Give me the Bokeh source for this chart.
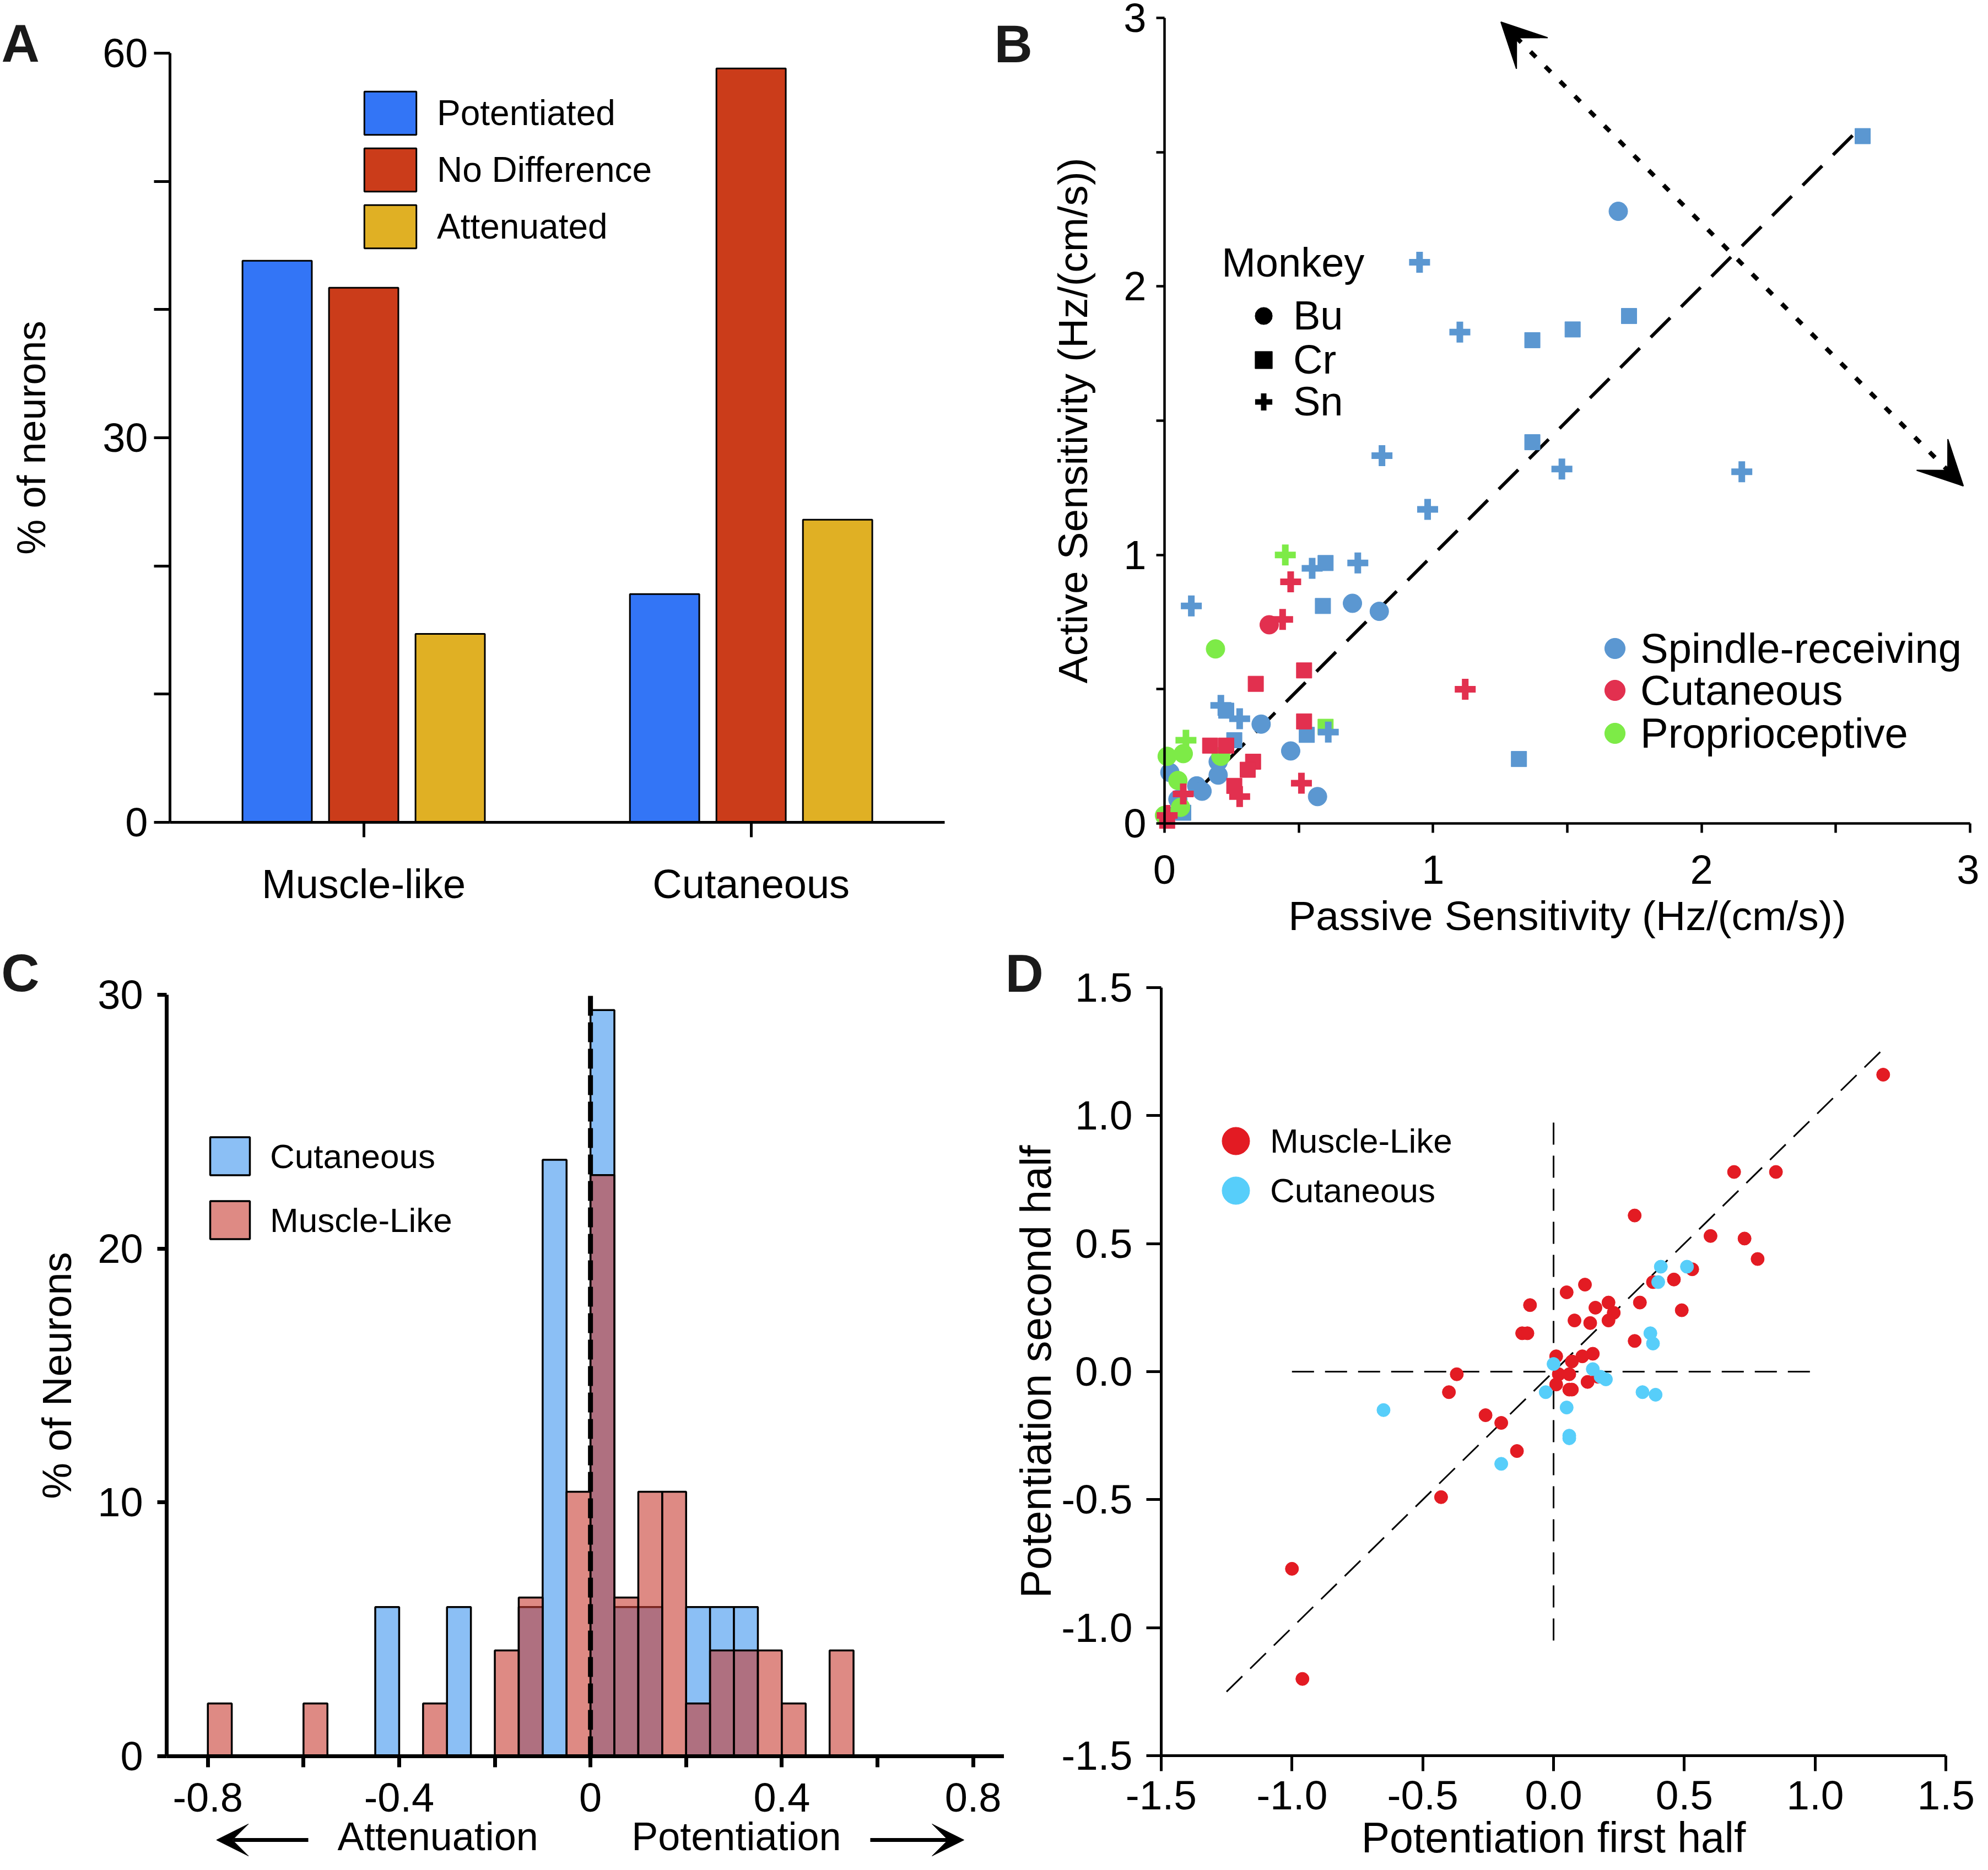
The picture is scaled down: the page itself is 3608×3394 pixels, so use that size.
from bokeh.plotting import figure
from bokeh.models import (Range1d, FixedTicker, Legend, LegendItem, Label,
                          Arrow, VeeHead, ColumnDataSource)
from bokeh.layouts import column, row
from bokeh.transform import dodge, factor_cmap, factor_mark
from bokeh.embed import file_html
from bokeh.resources import INLINE

FONT = "Liberation Sans"
NAN = float("nan")

# ---------------- Panel A data ----------------
groups = ["Muscle-like", "Cutaneous"]
potentiated = [43.8, 17.8]
no_difference = [41.7, 58.8]
attenuated = [14.7, 23.6]

# ---------------- Panel B data ----------------
b_types = ["Spindle-receiving", "Cutaneous", "Proprioceptive"]
b_monkeys = ["Bu", "Cr", "Sn"]
b_passive = [0.60,
             2.60, 1.69, 0.95, 1.10, 1.37, 1.52, 1.73, 1.37, 0.81, 1.48, 2.15, 0.98,
             0.10, 0.55, 0.60, 0.72, 0.59, 0.70, 0.80, 0.21, 0.23, 0.28, 0.36, 0.26,
             0.53, 0.61, 0.47, 0.57, 0.20, 0.20, 0.02, 0.12, 0.14, 0.05, 0.07, 0.01, 1.32,
             0.45, 0.19, 0.08, 0.01, 0.07, 0.21, 0.05, 0.06, 0.00,
             0.47, 0.39, 0.44, 0.52, 0.34, 1.12, 0.52, 0.17, 0.23, 0.33, 0.31, 0.26,
             0.28, 0.51, 0.07, 0.01, 0.01]
b_active = [0.36,
            2.56, 2.28, 2.09, 1.83, 1.80, 1.84, 1.89, 1.42, 1.37, 1.32, 1.31, 1.17,
            0.81, 0.95, 0.97, 0.97, 0.81, 0.82, 0.79, 0.44, 0.42, 0.39, 0.37, 0.31,
            0.33, 0.34, 0.27, 0.10, 0.23, 0.18, 0.19, 0.14, 0.12, 0.09, 0.04, 0.03, 0.24,
            1.00, 0.65, 0.31, 0.25, 0.26, 0.25, 0.16, 0.06, 0.03,
            0.90, 0.74, 0.76, 0.57, 0.52, 0.50, 0.38, 0.29, 0.29, 0.23, 0.20, 0.14,
            0.10, 0.15, 0.11, 0.01, 0.03]
b_type = (["Proprioceptive"] + ["Spindle-receiving"] * 37 + ["Proprioceptive"] * 9
          + ["Cutaneous"] * 17)
b_monkey = ["Cr",
            "Cr", "Bu", "Sn", "Sn", "Cr", "Cr", "Cr", "Cr", "Sn", "Sn", "Sn", "Sn",
            "Sn", "Sn", "Cr", "Sn", "Cr", "Bu", "Bu", "Sn", "Cr", "Sn", "Bu", "Cr",
            "Cr", "Sn", "Bu", "Bu", "Bu", "Bu", "Bu", "Bu", "Bu", "Bu", "Cr", "Bu", "Cr",
            "Sn", "Bu", "Sn", "Bu", "Bu", "Bu", "Bu", "Bu", "Bu",
            "Sn", "Bu", "Sn", "Cr", "Cr", "Sn", "Cr", "Cr", "Cr", "Cr", "Cr", "Cr",
            "Sn", "Sn", "Sn", "Cr", "Sn"]
b_identity = [0, 2.58]

# ---------------- Panel C data ----------------
bin_width = 0.05
c_cut_left = [-0.45, -0.30, -0.15, -0.10, 0.00, 0.05, 0.10, 0.20, 0.25, 0.30]
c_cut_pct = [5.88, 5.88, 5.88, 23.5, 29.4, 5.88, 5.88, 5.88, 5.88, 5.88]
c_mus_left = [-0.80, -0.60, -0.35, -0.20, -0.15, -0.05, 0.00, 0.05, 0.10, 0.15,
              0.20, 0.25, 0.30, 0.35, 0.40, 0.50]
c_mus_pct = [2.08, 2.08, 2.08, 4.17, 6.25, 10.42, 22.9, 6.25, 10.42, 10.42,
             2.08, 4.17, 4.17, 4.17, 2.08, 4.17]
c_ticks = [-0.8, -0.4, 0, 0.4, 0.8]
c_zero_x = [0, 0]
c_zero_y = [0, 30]

# ---------------- Panel D data ----------------
d_mus_first = [1.26, 0.69, 0.85, 0.31, 0.60, 0.73, 0.78, 0.53, 0.46, 0.38,
               0.49, 0.33, 0.31, 0.12, 0.05, -0.09, -0.12, -0.10, 0.16, 0.21,
               0.23, 0.21, 0.08, 0.14, 0.15, 0.11, 0.07, 0.01, 0.02, 0.06,
               0.01, 0.06, 0.07, 0.13, 0.17, -0.37, -0.40, -0.26, -0.20, -0.14,
               -0.43, -1.00, -0.96]
d_mus_second = [1.16, 0.78, 0.78, 0.61, 0.53, 0.52, 0.44, 0.40, 0.36, 0.35,
                0.24, 0.27, 0.12, 0.34, 0.31, 0.26, 0.15, 0.15, 0.25, 0.27,
                0.23, 0.20, 0.20, 0.19, 0.07, 0.06, 0.04, 0.06, -0.01, -0.01,
                -0.05, -0.07, -0.07, -0.04, -0.02, -0.01, -0.08, -0.17, -0.20, -0.31,
                -0.49, -0.77, -1.20]
d_cut_first = [0.41, 0.51, 0.40, 0.37, 0.38, 0.00, 0.15, 0.18, 0.20, -0.03,
               0.05, 0.34, 0.39, 0.06, 0.06, -0.65, -0.20]
d_cut_second = [0.41, 0.41, 0.35, 0.15, 0.11, 0.03, 0.01, -0.02, -0.03, -0.08,
                -0.14, -0.08, -0.09, -0.25, -0.26, -0.15, -0.36]
d_ticks = [-1.5, -1.0, -0.5, 0.0, 0.5, 1.0, 1.5]
identity_span = [-1.25, 1.25]
zero_h_span = [-1.0, 1.0]
zero_v_span = [-1.05, 1.0]


def base_fig(w, h, xr, yr):
    p = figure(width=w, height=h, x_range=Range1d(*xr), y_range=Range1d(*yr),
               output_backend="svg", toolbar_location=None, min_border=0)
    p.outline_line_color = None
    p.xgrid.grid_line_color = None
    p.ygrid.grid_line_color = None
    p.background_fill_color = "white"
    p.border_fill_color = "white"
    return p


def style_axis(ax, lw, tick_out, size, standoff, lab_size, lab_standoff, loc, bounds):
    ax.fixed_location = loc
    ax.bounds = bounds
    ax.axis_line_width = lw
    ax.axis_line_color = "black"
    ax.major_tick_line_width = lw
    ax.minor_tick_line_width = lw
    ax.major_tick_line_color = "black"
    ax.minor_tick_line_color = "black"
    ax.major_tick_in = 0
    ax.minor_tick_in = 0
    ax.major_tick_out = tick_out
    ax.minor_tick_out = tick_out
    ax.major_label_text_font = FONT
    ax.major_label_text_font_size = f"{size}px"
    ax.major_label_text_color = "black"
    ax.major_label_standoff = standoff
    ax.axis_label_text_font = FONT
    ax.axis_label_text_font_style = "normal"
    ax.axis_label_text_font_size = f"{lab_size}px"
    ax.axis_label_text_color = "black"
    ax.axis_label_standoff = lab_standoff


def text(p, x, y, t, size, align="left", bold=False, color="black"):
    p.add_layout(Label(x=x, y=y, text=t, text_font=FONT,
                       text_font_style="bold" if bold else "normal",
                       text_font_size=f"{size}px", text_color=color,
                       text_align=align, text_baseline="alphabetic"))


def legend(p, items, loc, gw, gh, standoff, spacing, size):
    lg = Legend(items=items, location=loc, glyph_width=gw, glyph_height=gh,
                label_standoff=standoff, spacing=spacing, padding=0, margin=0,
                border_line_alpha=0, background_fill_alpha=0, label_text_font=FONT,
                label_text_font_size=f"{size}px", label_text_color="black")
    p.add_layout(lg)
    return lg


# ================= Panel A =================
pA = base_fig(1800, 1707, (-0.438, 2.122), (-9.24, 64.12))
a_pos = [i + 0.5 for i in range(len(groups))]
srcA = ColumnDataSource(dict(pos=a_pos, pot=potentiated, nd=no_difference, att=attenuated))
step = 0.2233
bw = 0.179
rA1 = pA.vbar(x=dodge("pos", -step), top="pot", width=bw, source=srcA,
              fill_color="#3375F6", line_color="black", line_width=3)
rA2 = pA.vbar(x=dodge("pos", 0), top="nd", width=bw, source=srcA,
              fill_color="#CB3C1A", line_color="black", line_width=3)
rA3 = pA.vbar(x=dodge("pos", step), top="att", width=bw, source=srcA,
              fill_color="#E0B024", line_color="black", line_width=3)
pA.xaxis.ticker = FixedTicker(ticks=a_pos)
pA.xaxis.major_label_overrides = {p_: g for p_, g in zip(a_pos, groups)}
pA.yaxis.ticker = FixedTicker(ticks=[0, 30, 60], minor_ticks=[10, 20, 40, 50])
pA.yaxis.axis_label = "% of neurons"
style_axis(pA.yaxis[0], 5, 29, 74, 11, 72, 86, 0, (0, 60))
style_axis(pA.xaxis[0], 5, 27, 74, 44, 72, 10, 0, (0, 2))
legend(pA, [LegendItem(label="Potentiated", renderers=[rA1]),
            LegendItem(label="No Difference", renderers=[rA2]),
            LegendItem(label="Attenuated", renderers=[rA3])],
       (649, 1247), 118, 98, 26, 5, 64)
text(pA, -0.435, 60.77, "A", 96, bold=True, color="#1a1a1a")

# ================= Panel B =================
pB = base_fig(1792, 1707, (-0.642, 3.035), (-0.437, 3.066))
colors_B = ["#5B97D1", "#E2304F", "#7DEB47"]
size_map = {"Bu": 34, "Cr": 28, "Sn": 38}
lw_map = {"Bu": 1, "Cr": 1, "Sn": 12}
srcB = ColumnDataSource(dict(x=b_passive, y=b_active, t=b_type, m=b_monkey,
                             s=[size_map[m] for m in b_monkey],
                             lw=[lw_map[m] for m in b_monkey]))
pB.line(b_identity, b_identity, line_color="black", line_width=6, line_dash="50 28")
pB.scatter(x="x", y="y", source=srcB, size="s", line_width="lw",
           marker=factor_mark("m", ["circle", "square", "cross"], b_monkeys),
           fill_color=factor_cmap("t", colors_B, b_types),
           line_color=factor_cmap("t", colors_B, b_types))
pB.add_layout(Arrow(start=VeeHead(size=80, fill_color="black", line_color="black", line_width=2),
                    end=VeeHead(size=80, fill_color="black", line_color="black", line_width=2),
                    x_start=1.253, y_start=2.985, x_end=2.975, y_end=1.257,
                    line_width=8, line_dash="14 24", line_color="black"))
pB.xaxis.ticker = FixedTicker(ticks=[0, 1, 2, 3], minor_ticks=[0.5, 1.5, 2.5])
pB.yaxis.ticker = FixedTicker(ticks=[0, 1, 2, 3], minor_ticks=[0.5, 1.5, 2.5])
pB.xaxis.axis_label = "Passive Sensitivity (Hz/(cm/s))"
pB.yaxis.axis_label = "Active Sensitivity (Hz/(cm/s))"
style_axis(pB.xaxis[0], 4.5, 17, 74, 41, 75, 13, 0, (0, 3))
style_axis(pB.yaxis[0], 4.5, 15, 74, 18, 75, 47, 0, (0, 3))
dummy_m = [pB.scatter(x=[NAN], y=[NAN], marker="circle", size=10, color="black"),
           pB.scatter(x=[NAN], y=[NAN], marker="square", size=10, color="black"),
           pB.scatter(x=[NAN], y=[NAN], marker="cross", size=10, color="black", line_width=10)]
for m, r, yoff in zip(b_monkeys, dummy_m, [1092, 1012, 936]):
    legend(pB, [LegendItem(label=m, renderers=[r])], (454, yoff), 78, 78, 15, 0, 74)
text(pB, 0.213, 2.090, "Monkey", 74)
dummy_t = [pB.scatter(x=[NAN], y=[NAN], marker="circle", size=10, color=c) for c in colors_B]
for t, r, yoff in zip(b_types, dummy_t, [484, 408, 330]):
    legend(pB, [LegendItem(label=t, renderers=[r])], (1084, yoff), 93, 93, 0, 0, 76)
text(pB, -0.634, 2.903, "B", 96, bold=True, color="#1a1a1a")

# ================= Panel C =================
pC = base_fig(1822, 1671, (-1.234, 0.865), (-4.146, 32.13))
srcCc = ColumnDataSource(dict(l=c_cut_left, r=[v + bin_width for v in c_cut_left], t=c_cut_pct))
srcCm = ColumnDataSource(dict(l=c_mus_left, r=[v + bin_width for v in c_mus_left], t=c_mus_pct))
rC1 = pC.quad(left="l", right="r", top="t", bottom=0, source=srcCc, fill_color="#8BBFF5",
              line_color="black", line_width=3.5)
rC2 = pC.quad(left="l", right="r", top="t", bottom=0, source=srcCm, fill_color="#C83C32",
              fill_alpha=0.6, line_color="black", line_width=3.5)
pC.line(c_zero_x, c_zero_y, line_color="black", line_width=9, line_dash="36 12")
pC.xaxis.ticker = FixedTicker(ticks=c_ticks, minor_ticks=[-0.6, -0.2, 0.2, 0.6])
pC.xaxis.major_label_overrides = {t: ("0" if t == 0 else f"{t:.1f}") for t in c_ticks}
pC.yaxis.ticker = FixedTicker(ticks=[0, 10, 20, 30])
pC.yaxis.axis_label = "% of Neurons"
style_axis(pC.xaxis[0], 7, 20, 74, 29, 72, 0, 0, (-0.886, 0.865))
style_axis(pC.yaxis[0], 7, 17, 74, 26, 74, 29, -0.886, (0, 30))
legend(pC, [LegendItem(label="Cutaneous", renderers=[rC1]),
            LegendItem(label="Muscle-Like", renderers=[rC2])],
       (372, 1121), 90, 86, 28, 30, 62)
text(pC, -0.319, -3.16, "Attenuation", 72, align="center")
text(pC, 0.305, -3.16, "Potentiation", 72, align="center")
pC.add_layout(Arrow(end=VeeHead(size=58, fill_color="black", line_color="black"),
                    x_start=-0.59, y_start=-3.30, x_end=-0.782, y_end=-3.30,
                    line_width=7, line_color="black"))
pC.add_layout(Arrow(end=VeeHead(size=58, fill_color="black", line_color="black"),
                    x_start=0.585, y_start=-3.30, x_end=0.781, y_end=-3.30,
                    line_width=7, line_color="black"))
text(pC, -1.232, 30.87, "C", 96, bold=True, color="#1a1a1a")

# ================= Panel D =================
pD = base_fig(1770, 1671, (-2.100, 1.628), (-1.913, 1.683))
pD.line(identity_span, identity_span, line_color="black", line_width=3, line_dash="40 20")
pD.line(zero_h_span, [0, 0], line_color="black", line_width=3, line_dash="40 20")
pD.line([0, 0], zero_v_span, line_color="black", line_width=3, line_dash="40 20")
rD1 = pD.scatter(d_mus_first, d_mus_second, size=24, color="#E31B23")
rD2 = pD.scatter(d_cut_first, d_cut_second, size=24, color="#57CEFA")
pD.xaxis.ticker = FixedTicker(ticks=d_ticks)
pD.yaxis.ticker = FixedTicker(ticks=d_ticks)
pD.xaxis.major_label_overrides = {t: f"{t:.1f}" for t in d_ticks}
pD.yaxis.major_label_overrides = {t: f"{t:.1f}" for t in d_ticks}
pD.xaxis.axis_label = "Potentiation first half"
pD.yaxis.axis_label = "Potentiation second half"
style_axis(pD.xaxis[0], 5, 28, 75, 18, 77, 5, -1.5, (-1.5, 1.5))
style_axis(pD.yaxis[0], 5, 27, 75, 25, 77, 0, -1.5, (-1.5, 1.5))
legend(pD, [LegendItem(label="Muscle-Like", renderers=[rD1])], (358, 1245), 125, 125, 0, 0, 62)
legend(pD, [LegendItem(label="Cutaneous", renderers=[rD2])], (358, 1155), 125, 125, 0, 0, 62)
text(pD, -2.096, 1.556, "D", 96, bold=True, color="#1a1a1a")

layout = column(row(pA, pB, spacing=0), row(pC, pD, spacing=0), spacing=0)
open("out.html", "w").write(file_html(layout, INLINE))
